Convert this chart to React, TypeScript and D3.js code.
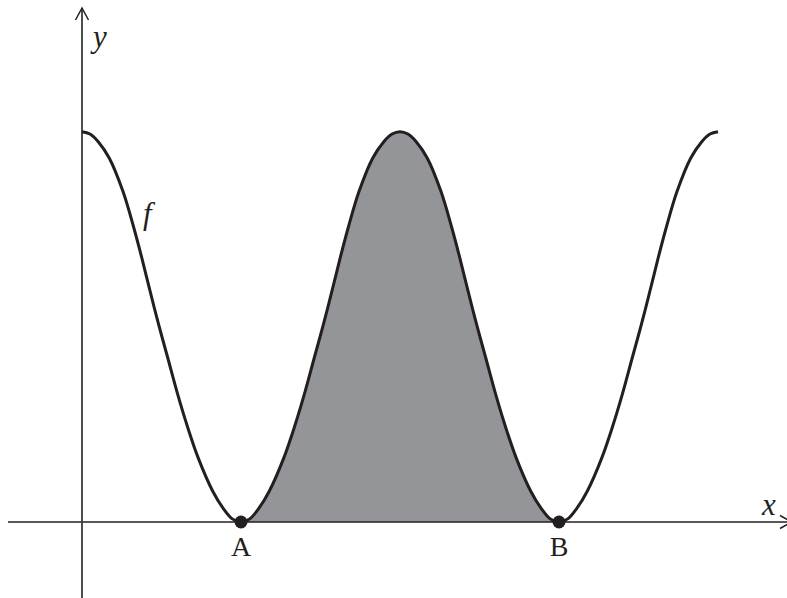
import { useEffect, useRef } from 'react';
import * as d3 from 'd3';

// x in units of the half period (A = 1, B = 3), y in units where the peak = 2
const curveX = [
  0, 0.05, 0.102, 0.172, 0.258, 0.321, 0.377, 0.429, 0.483, 0.54, 0.597, 0.66, 0.732, 0.824, 0.888, 0.945, 1.0,
  1.055, 1.112, 1.176, 1.268, 1.34, 1.403, 1.46, 1.517, 1.571, 1.623, 1.679, 1.742, 1.828, 1.898, 1.95, 2.0,
  2.05, 2.102, 2.172, 2.258, 2.321, 2.377, 2.429, 2.483, 2.54, 2.597, 2.66, 2.732, 2.824, 2.888, 2.945, 3.0,
  3.055, 3.112, 3.176, 3.268, 3.34, 3.403, 3.46, 3.517, 3.571, 3.623, 3.679, 3.742, 3.828, 3.898, 3.95, 4.0,
];
const curveY = [
  2.0, 1.988, 1.949, 1.864, 1.693, 1.522, 1.351, 1.18, 1.009, 0.839, 0.668, 0.497, 0.326, 0.155, 0.07, 0.016, 0,
  0.016, 0.07, 0.155, 0.326, 0.497, 0.668, 0.839, 1.009, 1.18, 1.351, 1.522, 1.693, 1.864, 1.949, 1.988, 2.0,
  1.988, 1.949, 1.864, 1.693, 1.522, 1.351, 1.18, 1.009, 0.839, 0.668, 0.497, 0.326, 0.155, 0.07, 0.016, 0,
  0.016, 0.07, 0.155, 0.326, 0.497, 0.668, 0.839, 1.009, 1.18, 1.351, 1.522, 1.693, 1.864, 1.949, 1.988, 2.0,
];
const markedPoints = [
  { label: 'A', x: 1 },
  { label: 'B', x: 3 },
];
const shadeFrom = 1;
const shadeTo = 3;

const serif = '"Liberation Serif", Tinos, "Times New Roman", "DejaVu Serif", serif';

export default function App() {
  const svgRef = useRef<SVGSVGElement>(null);

  useEffect(() => {
    if (!svgRef.current) return;
    const width = 787;
    const height = 598;
    const originX = 82;
    const originY = 522;

    d3.select(svgRef.current).selectAll('*').remove();
    const svg = d3.select(svgRef.current).attr('width', width).attr('height', height);

    const x = d3.scaleLinear().domain([0, 4]).range([originX, 718]);
    const y = d3.scaleLinear().domain([0, 2]).range([originY, 131.7]);

    const pts = curveX.map((v, i) => ({ x: v, y: curveY[i] }));
    const smooth = d3.curveCatmullRom.alpha(0.5);

    // shaded region between A and B, clipped from the full curve
    svg.append('clipPath')
      .attr('id', 'shade-clip')
      .append('rect')
      .attr('x', x(shadeFrom))
      .attr('y', 0)
      .attr('width', x(shadeTo) - x(shadeFrom))
      .attr('height', y(0));

    const area = d3.area<{ x: number; y: number }>()
      .x(d => x(d.x))
      .y0(y(0))
      .y1(d => y(d.y))
      .curve(smooth);

    svg.append('path')
      .datum(pts)
      .attr('d', area)
      .attr('clip-path', 'url(#shade-clip)')
      .attr('fill', '#939598');

    const ink = '#231f20';

    // axes
    svg.append('line')
      .attr('x1', 8).attr('x2', 790)
      .attr('y1', originY).attr('y2', originY)
      .attr('stroke', ink).attr('stroke-width', 1.5);
    svg.append('line')
      .attr('x1', originX).attr('x2', originX)
      .attr('y1', 8).attr('y2', height)
      .attr('stroke', '#3a3a3a').attr('stroke-width', 1.8);

    svg.append('path')
      .attr('d', `M${originX - 6.5},${20} L${originX},${8} L${originX + 6.5},${20}`)
      .attr('fill', 'none').attr('stroke', ink).attr('stroke-width', 1.5);
    svg.append('path')
      .attr('d', `M${780},${originY - 6.5} L${792},${originY} L${780},${originY + 6.5}`)
      .attr('fill', 'none').attr('stroke', ink).attr('stroke-width', 1.5);

    const line = d3.line<{ x: number; y: number }>()
      .x(d => x(d.x))
      .y(d => y(d.y))
      .curve(smooth);

    svg.append('path')
      .datum(pts)
      .attr('d', line)
      .attr('fill', 'none')
      .attr('stroke', ink)
      .attr('stroke-width', 3);

    svg.selectAll('.pt')
      .data(markedPoints)
      .join('circle')
      .attr('class', 'pt')
      .attr('cx', d => x(d.x))
      .attr('cy', y(0))
      .attr('r', 6.5)
      .attr('fill', ink);

    svg.selectAll('.ptlabel')
      .data(markedPoints)
      .join('text')
      .attr('class', 'ptlabel')
      .attr('x', d => x(d.x))
      .attr('y', 556)
      .attr('text-anchor', 'middle')
      .attr('font-family', serif)
      .attr('font-size', 28)
      .attr('fill', ink)
      .text(d => d.label);

    const italic = (tx: number, ty: number, s: string) =>
      svg.append('text')
        .attr('x', tx)
        .attr('y', ty)
        .attr('font-family', serif)
        .attr('font-style', 'italic')
        .attr('font-size', 31)
        .attr('fill', ink)
        .text(s);

    italic(93, 47, 'y');
    italic(762, 515, 'x');
    italic(143, 224, 'f');
  }, []);

  return (
    <div>
      <svg ref={svgRef} style={{ position: 'absolute', left: 0, top: 0, display: 'block', background: '#fff' }}></svg>
    </div>
  );
}
